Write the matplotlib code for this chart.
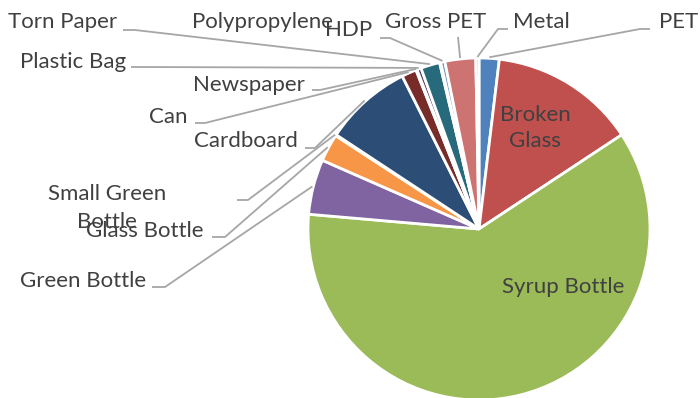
import numpy as np
import matplotlib
matplotlib.use("Agg")
import matplotlib.pyplot as plt

# data (percent share, clockwise from 12 o'clock)
categories = ["PET", "Broken Glass", "Syrup Bottle", "Green Bottle", "Glass Bottle",
              "Small Green Bottle", "Cardboard", "Can", "Newspaper", "Plastic Bag",
              "Torn Paper", "Polypropylene", "HDP", "Gross PET", "Metal"]
values = [1.9, 13.8, 60.6, 5.2, 2.6, 0.1, 8.3, 1.4, 0.1, 0.4, 1.8, 0.1, 0.4, 2.9, 0.3]
colors = ["#4F81BD", "#C0504D", "#9BBB59", "#8064A2", "#F79646", "#4BACC6",
          "#2C4D75", "#772C2A", "#5F7530", "#4D3B62", "#276A7C", "#B65708",
          "#729ACA", "#CD7371", "#AFC97A"]

W, H = 700, 398
plt.rcParams['font.family'] = ['Lato', 'DejaVu Sans']
TXT = "#404040"
LINE = "#A6A6A6"
FS = 16

fig = plt.figure(figsize=(7, 3.98), dpi=100)
ax = fig.add_axes([0, 0, 1, 1])


def fy(py):
    # pixel row (from top) -> data y
    return H - py


cx, cy, R = 479, fy(229), 171
wedges, _ = ax.pie(values, colors=colors, startangle=90, counterclock=False,
                   center=(cx, cy), radius=R, explode=[0.015] * len(values),
                   wedgeprops=dict(edgecolor="white", linewidth=2))
ax.set_xlim(0, W)
ax.set_ylim(0, H)
ax.axis("off")

# labels inside the two big slices
ax.text(535, fy(128), "Broken\nGlass", ha="center", va="center", fontsize=FS,
        color=TXT, linespacing=1.35)
ax.text(563, fy(287), "Syrup Bottle", ha="center", va="center", fontsize=FS, color=TXT)

# outside labels: text position, alignment, leader line start and elbow
outside = {
    "PET":                (698, 22, "right", (650, 29), (640, 29)),
    "Metal":              (513, 22, "left", (508, 29), (498, 29)),
    "Gross PET":          (436, 22, "center", (458, 37), (458, 37)),
    "HDP":                (349, 30, "center", (380, 38), (390, 38)),
    "Polypropylene":      (262, 22, "center", None, None),
    "Torn Paper":         (117, 22, "right", (123, 30), (135, 30)),
    "Plastic Bag":        (126, 62, "right", (131, 67), (140, 67)),
    "Newspaper":          (305, 85, "right", (312, 90), (320, 90)),
    "Can":                (188, 117, "right", (195, 123), (205, 123)),
    "Cardboard":          (298, 141, "right", (305, 148), (315, 148)),
    "Small Green Bottle": (107, 208, "center", (237, 200), (248, 200)),
    "Glass Bottle":       (204, 231, "right", (212, 237), (225, 237)),
    "Green Bottle":       (146, 281, "right", (152, 287), (165, 287)),
}

for w, name in zip(wedges, categories):
    if name not in outside:
        continue
    x, y, ha, start, elbow = outside[name]
    label = "Small Green\nBottle" if name == "Small Green Bottle" else name
    ax.text(x, fy(y), label, ha=ha, va="center", fontsize=FS, color=TXT,
            linespacing=1.45)
    if start is None:
        continue
    # leader line ends at the outer edge of the slice, mid angle
    mid = np.deg2rad((w.theta1 + w.theta2) / 2)
    ex = w.center[0] + (R + 1) * np.cos(mid)
    ey = w.center[1] + (R + 1) * np.sin(mid)
    ax.plot([start[0], elbow[0], ex], [fy(start[1]), fy(elbow[1]), ey],
            color=LINE, lw=1.3, solid_capstyle="butt")

fig.savefig("out.png", dpi=100)
